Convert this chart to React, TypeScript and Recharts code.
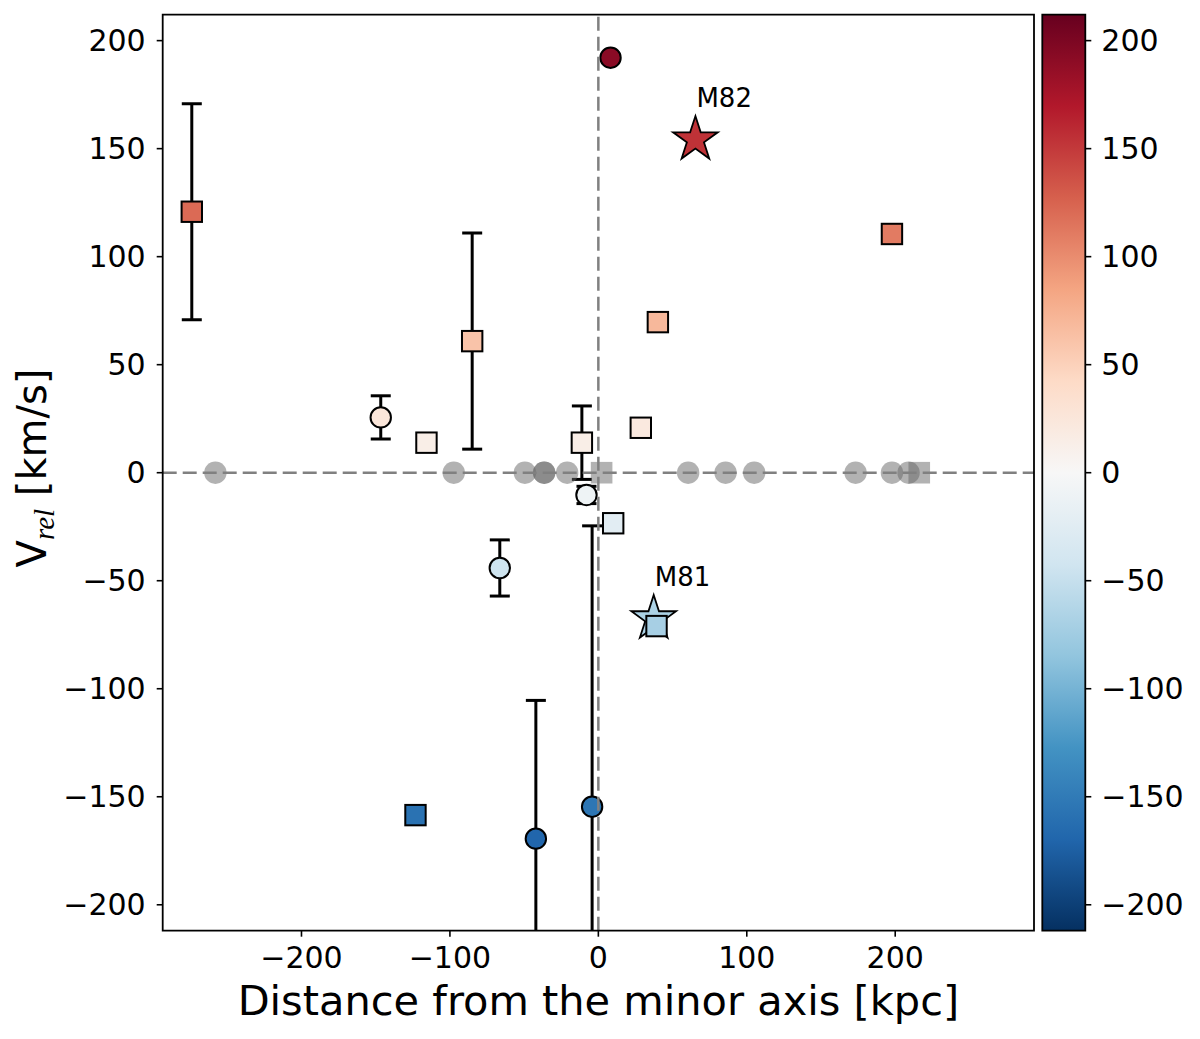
import React from 'react';
import {
  ScatterChart,
  Scatter,
  XAxis,
  YAxis,
  ErrorBar,
  ReferenceLine,
  ReferenceArea,
  ComposedChart,
} from 'recharts';

// ---------- axes ----------
const X_DOMAIN: [number, number] = [-293.5, 293.5];
const V_DOMAIN: [number, number] = [-212, 212];
const X_TICKS = [-200, -100, 0, 100, 200];
const V_TICKS = [-200, -150, -100, -50, 0, 50, 100, 150, 200];

// ---------- data ----------
// satellites without velocity (plotted at v = 0, grey)
const grayCircleX = [-258.0, -97.4, -49.5, -36.5, -36.5, -21.0, 60.5, 85.7, 105.0, 173.3, 197.8, 209.0];
const graySquareX = [2.2, 216.2];

// circles with error bars
const circErrX = [-146.6, -66.4, -42.1, -4.2, -8.0];
const circErrV = [25.6, -44.1, -169.4, -154.6, -10.3];
const circErrE = [10, 13, 64, 130, 4];

// circles without error bars
const circX = [8.2];
const circV = [192.1];

// squares with error bars
const sqErrX = [-273.9, -85.0, -11.1];
const sqErrV = [120.8, 60.9, 13.9];
const sqErrE = [50, 50, 17];

// squares without error bars
const sqX = [-115.8, 28.6, 10.0, 40.1, 197.8, -123.2, 39.2];
const sqV = [13.9, 20.8, -23.4, 69.7, 110.5, -158.5, -71.0];

// host galaxies
const starNames = ['M82', 'M81'];
const starX = [65.4, 37.3];
const starV = [154.2, -67.5];

const grayCircles = grayCircleX.map((x) => ({ x, v: 0 }));
const graySquares = graySquareX.map((x) => ({ x, v: 0 }));
const circErr = circErrX.map((x, i) => ({ x, v: circErrV[i], e: circErrE[i] }));
const circ = circX.map((x, i) => ({ x, v: circV[i] }));
const sqErr = sqErrX.map((x, i) => ({ x, v: sqErrV[i], e: sqErrE[i] }));
const sq = sqX.map((x, i) => ({ x, v: sqV[i] }));
const stars = starX.map((x, i) => ({ x, v: starV[i], name: starNames[i] }));

// ---------- colour map (matplotlib RdBu_r) ----------
const RDBU_R = [
  '#053061', '#2166ac', '#4393c3', '#92c5de', '#d1e5f0', '#f7f7f7',
  '#fddbc7', '#f4a582', '#d6604d', '#b2182b', '#67001f',
];
const hex = (h: string) => [1, 3, 5].map((k) => parseInt(h.slice(k, k + 2), 16));
function cmap(v: number): string {
  let t = (v - V_DOMAIN[0]) / (V_DOMAIN[1] - V_DOMAIN[0]);
  t = Math.max(0, Math.min(1, t));
  const pos = t * 10;
  const i = Math.min(9, Math.floor(pos));
  const f = pos - i;
  const a = hex(RDBU_R[i]);
  const b = hex(RDBU_R[i + 1]);
  const c = a.map((av, k) => Math.round(av + (b[k] - av) * f));
  return `rgb(${c[0]},${c[1]},${c[2]})`;
}

const FONT = 'DejaVu Sans';
const fmt = (v: number) => String(v).replace('-', '\u2212');

// plot box (pixels) used for clipping error bars
const PLOT = { left: 162.7, top: 14.7, width: 871.3, height: 916 };

// ---------- marker shapes ----------
const GrayCircle = (p: any) => (
  <circle cx={p.cx} cy={p.cy} r={11.2} fill="#666666" fillOpacity={0.5} stroke="none" />
);
const GraySquare = (p: any) => (
  <rect x={p.cx - 10.8} y={p.cy - 10.8} width={21.6} height={21.6} fill="#666666" fillOpacity={0.5} stroke="none" />
);
const ColCircle = (p: any) => (
  <circle cx={p.cx} cy={p.cy} r={10.2} fill={cmap(p.payload.v)} stroke="#000" strokeWidth={2} />
);
const ColSquare = (p: any) => (
  <rect x={p.cx - 10.2} y={p.cy - 10.2} width={20.4} height={20.4} fill={cmap(p.payload.v)} stroke="#000" strokeWidth={2} />
);
const Star = (p: any) => {
  const R = 23.5;
  const r = R * 0.381966;
  const pts: string[] = [];
  for (let k = 0; k < 10; k++) {
    const ang = ((-90 + k * 36) * Math.PI) / 180;
    const rad = k % 2 === 0 ? R : r;
    pts.push(`${p.cx + rad * Math.cos(ang)},${p.cy + rad * Math.sin(ang)}`);
  }
  return (
    <g>
      <polygon points={pts.join(' ')} fill={cmap(p.payload.v)} stroke="#000" strokeWidth={1.8} strokeLinejoin="miter" />
      <text x={p.cx + 1} y={p.cy - 32.4} fontFamily={FONT} fontSize={26} fill="#000">
        {p.payload.name}
      </text>
    </g>
  );
};

const XLabel = () => (
  <text x={598.4} y={1015} textAnchor="middle" fontFamily={FONT} fontSize={41.5} fill="#000">
    Distance from the minor axis [kpc]
  </text>
);
const YLabel = () => (
  <text transform="translate(46,468) rotate(-90)" textAnchor="middle" fontFamily={FONT} fontSize={40} fill="#000">
    V
    <tspan fontFamily="Liberation Serif" fontStyle="italic" fontSize={29} dy={8}>
      rel
    </tspan>
    <tspan dy={-8}> [km/s]</tspan>
  </text>
);

const tickStyle = { fill: '#000', fontSize: 30, fontFamily: FONT };
const tickLine = { stroke: '#000', strokeWidth: 1.6 };

export default function App() {
  return (
    <div style={{ position: 'absolute', left: 0, top: 0, width: 1200, height: 1039, background: '#fff' }}>
      <div style={{ position: 'absolute', left: 0, top: 0 }}>
        <ScatterChart width={1200} height={1039} margin={{ top: 14.7, right: 166, bottom: 48.3, left: 82.7 }}>
          <defs>
            <clipPath id="plotclip">
              <rect x={PLOT.left} y={PLOT.top} width={PLOT.width} height={PLOT.height} />
            </clipPath>
          </defs>
          <XAxis
            type="number"
            dataKey="x"
            domain={X_DOMAIN}
            ticks={X_TICKS}
            interval={0}
            allowDataOverflow
            axisLine={false}
            tickSize={6}
            tickMargin={10}
            tickLine={tickLine}
            tick={tickStyle}
            tickFormatter={fmt}
            height={60}
            label={{ content: XLabel }}
          />
          <YAxis
            type="number"
            dataKey="v"
            domain={V_DOMAIN}
            ticks={V_TICKS}
            interval={0}
            allowDataOverflow
            axisLine={false}
            tickSize={6}
            tickMargin={11}
            tickLine={tickLine}
            tick={tickStyle}
            tickFormatter={fmt}
            width={80}
            label={{ content: YLabel }}
          />
          <Scatter data={grayCircles} shape={GrayCircle} isAnimationActive={false} />
          <Scatter data={graySquares} shape={GraySquare} isAnimationActive={false} />
          <Scatter data={stars} shape={Star} isAnimationActive={false} />
          <Scatter data={circErr} shape={ColCircle} isAnimationActive={false}>
            <ErrorBar
              dataKey="e"
              direction="y"
              width={10}
              stroke="#000"
              strokeWidth={3}
              clipPath="url(#plotclip)"
            />
          </Scatter>
          <Scatter data={circ} shape={ColCircle} isAnimationActive={false} />
          <Scatter data={sqErr} shape={ColSquare} isAnimationActive={false}>
            <ErrorBar
              dataKey="e"
              direction="y"
              width={10}
              stroke="#000"
              strokeWidth={3}
              clipPath="url(#plotclip)"
            />
          </Scatter>
          <Scatter data={sq} shape={ColSquare} isAnimationActive={false} />
          <ReferenceLine y={0} stroke="#808080" strokeWidth={2.5} strokeDasharray="14 6" zIndex={1000} />
          <ReferenceLine x={0} stroke="#808080" strokeWidth={2.5} strokeDasharray="14 6" zIndex={1000} />
          <ReferenceArea
            x1={X_DOMAIN[0]}
            x2={X_DOMAIN[1]}
            y1={V_DOMAIN[0]}
            y2={V_DOMAIN[1]}
            fill="none"
            fillOpacity={0}
            stroke="#000"
            strokeWidth={1.8}
            zIndex={1100}
          />
        </ScatterChart>
      </div>
      <div style={{ position: 'absolute', left: 1000, top: 0 }}>
        <ComposedChart
          width={200}
          height={1039}
          data={[{ x: 0 }, { x: 1 }]}
          margin={{ top: 14.7, right: 14.7, bottom: 108.3, left: 42.3 }}
        >
          <defs>
            <linearGradient id="cbgrad" x1="0" y1="0" x2="0" y2="1">
              {RDBU_R.map((c, k) => (
                <stop key={k} offset={`${k * 10}%`} stopColor={RDBU_R[10 - k]} />
              ))}
            </linearGradient>
          </defs>
          <XAxis type="number" dataKey="x" domain={[0, 1]} hide />
          <YAxis
            type="number"
            orientation="right"
            domain={V_DOMAIN}
            ticks={V_TICKS}
            interval={0}
            allowDataOverflow
            axisLine={false}
            tickSize={6}
            tickMargin={10}
            tickLine={tickLine}
            tick={{ ...tickStyle, textAnchor: 'start' }}
            tickFormatter={fmt}
            width={100}
          />
          <ReferenceArea
            x1={0}
            x2={1}
            y1={V_DOMAIN[0]}
            y2={V_DOMAIN[1]}
            fill="url(#cbgrad)"
            fillOpacity={1}
            stroke="#000"
            strokeWidth={1.8}
          />
        </ComposedChart>
      </div>
    </div>
  );
}
